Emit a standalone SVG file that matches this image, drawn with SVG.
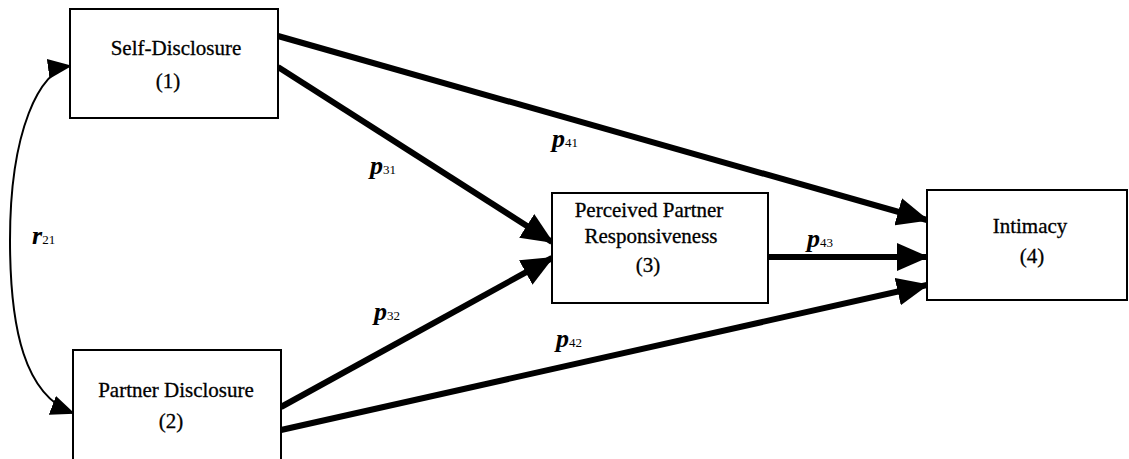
<svg xmlns="http://www.w3.org/2000/svg" width="1129" height="459" viewBox="0 0 1129 459">
<style>
.box{fill:#fff;stroke:#000;stroke-width:2}
.t{font-family:"Liberation Serif","Times New Roman",serif;font-size:21px;fill:#000;text-anchor:middle;stroke:#000;stroke-width:0.3}
.lbl{font-family:"Liberation Serif","Times New Roman",serif;font-size:26px;font-style:italic;font-weight:bold;fill:#000}
.sub{font-size:13px;font-style:normal;font-weight:normal}
.path{stroke:#000;stroke-width:6;fill:none}
.cor{stroke:#000;stroke-width:2;fill:none}
</style>
<defs>
<marker id="ah" markerUnits="userSpaceOnUse" markerWidth="32" markerHeight="28" refX="30" refY="14" orient="auto">
<path d="M0,0 L32,14 L0,28 z" fill="#000"/>
</marker>
<marker id="ahs" markerUnits="userSpaceOnUse" markerWidth="24" markerHeight="20" refX="22" refY="10" orient="auto-start-reverse">
<path d="M0,0 L24,10 L0,20 z" fill="#000"/>
</marker>
</defs>
<rect width="1129" height="459" fill="#fff"/>
<g id="connectors">
<path class="cor" d="M70,66 C40,70 10,130 10,240 C10,330 25,395 73,413" marker-start="url(#ahs)" marker-end="url(#ahs)"/>
<line class="path" x1="278" y1="36" x2="927" y2="220" marker-end="url(#ah)"/>
<line class="path" x1="278" y1="67" x2="552" y2="242" marker-end="url(#ah)"/>
<line class="path" x1="281" y1="407" x2="552" y2="258" marker-end="url(#ah)"/>
<line class="path" x1="281" y1="430" x2="927" y2="285" marker-end="url(#ah)"/>
<line class="path" x1="768" y1="257" x2="927" y2="257" marker-end="url(#ah)"/>
<text class="lbl" x="370" y="174">p<tspan class="sub">31</tspan></text>
<text class="lbl" x="552" y="147">p<tspan class="sub">41</tspan></text>
<text class="lbl" x="374" y="320">p<tspan class="sub">32</tspan></text>
<text class="lbl" x="556" y="347">p<tspan class="sub">42</tspan></text>
<text class="lbl" x="807" y="247">p<tspan class="sub">43</tspan></text>
<text class="lbl" x="32" y="244">r<tspan class="sub">21</tspan></text>
</g>
<g id="node1">
<rect class="box" x="70" y="9" width="208" height="109"/>
<text class="t" x="176" y="55">Self-Disclosure</text>
<text class="t" x="168" y="88">(1)</text>
</g>
<g id="node2">
<rect class="box" x="73" y="350" width="208" height="120"/>
<text class="t" x="176" y="397">Partner Disclosure</text>
<text class="t" x="171" y="428">(2)</text>
</g>
<g id="node3">
<rect class="box" x="552" y="193" width="216" height="110"/>
<text class="t" x="649" y="217">Perceived Partner</text>
<text class="t" x="651" y="243">Responsiveness</text>
<text class="t" x="648" y="272">(3)</text>
</g>
<g id="node4">
<rect class="box" x="927" y="190" width="200" height="110"/>
<text class="t" x="1030" y="233">Intimacy</text>
<text class="t" x="1032" y="263">(4)</text>
</g>
</svg>
